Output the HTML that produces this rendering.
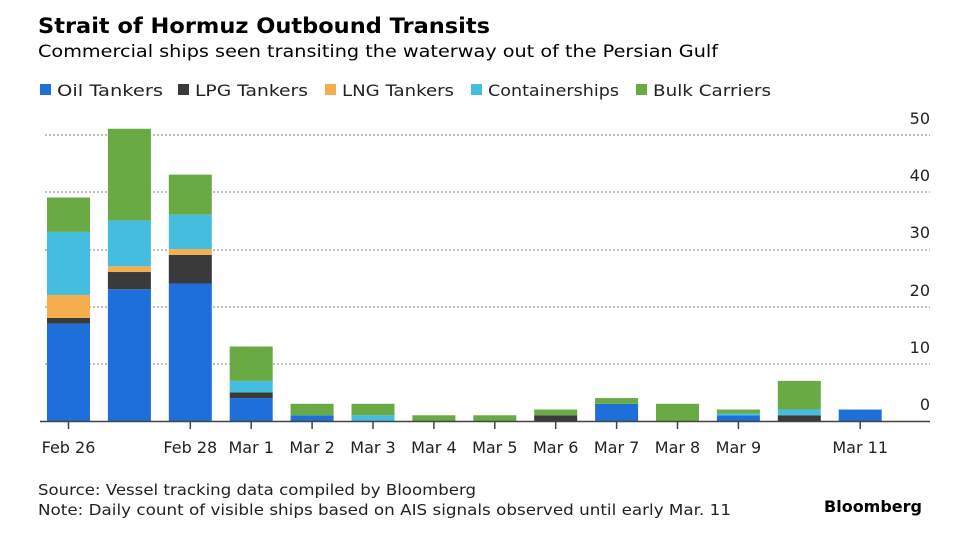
<!DOCTYPE html>
<html><head><meta charset="utf-8"><style>
body{margin:0;background:#fff;}
svg text{font-family:"DejaVu Sans","Liberation Sans",sans-serif;}
</style></head><body>
<svg width="960" height="540" xmlns="http://www.w3.org/2000/svg">
<rect width="960" height="540" fill="#fff"/>
<text x="38" y="33" font-size="21" font-weight="bold" fill="#000" textLength="452" lengthAdjust="spacingAndGlyphs">Strait of Hormuz Outbound Transits</text>
<text x="38" y="57" font-size="17" fill="#000" textLength="680" lengthAdjust="spacingAndGlyphs">Commercial ships seen transiting the waterway out of the Persian Gulf</text>
<g font-size="16" fill="#222">
<rect x="40" y="84" width="11" height="11" fill="#1f6fdb"/><text x="57" y="96" textLength="106" lengthAdjust="spacingAndGlyphs">Oil Tankers</text>
<rect x="178" y="84" width="11" height="11" fill="#3a3a3a"/><text x="195" y="96" textLength="113" lengthAdjust="spacingAndGlyphs">LPG Tankers</text>
<rect x="325" y="84" width="11" height="11" fill="#f5ae4e"/><text x="342" y="96" textLength="112" lengthAdjust="spacingAndGlyphs">LNG Tankers</text>
<rect x="471" y="84" width="11" height="11" fill="#45bde0"/><text x="488" y="96" textLength="131" lengthAdjust="spacingAndGlyphs">Containerships</text>
<rect x="636" y="84" width="11" height="11" fill="#6aaa44"/><text x="653" y="96" textLength="118" lengthAdjust="spacingAndGlyphs">Bulk Carriers</text>
</g>
<g stroke="#aaa" stroke-width="1.5" stroke-dasharray="2,2">
<line x1="45" x2="930" y1="135" y2="135"/><line x1="45" x2="930" y1="192" y2="192"/>
<line x1="45" x2="930" y1="250" y2="250"/><line x1="45" x2="930" y1="307" y2="307"/>
<line x1="45" x2="930" y1="364" y2="364"/>
</g>
<g font-size="16" fill="#222" text-anchor="end">
<text x="930" y="124">50</text><text x="930" y="181">40</text><text x="930" y="238">30</text>
<text x="930" y="296">20</text><text x="930" y="353">10</text><text x="930" y="410">0</text>
</g>
<g>
<rect x="47" y="323.59" width="43" height="97.41" fill="#1f6fdb"/>
<rect x="47" y="317.86" width="43" height="5.73" fill="#3a3a3a"/>
<rect x="47" y="294.94" width="43" height="22.92" fill="#f5ae4e"/>
<rect x="47" y="231.91" width="43" height="63.03" fill="#45bde0"/>
<rect x="47" y="197.53" width="43" height="34.38" fill="#6aaa44"/>

<rect x="107.9" y="289.21" width="43" height="131.79" fill="#1f6fdb"/>
<rect x="107.9" y="272.02" width="43" height="17.19" fill="#3a3a3a"/>
<rect x="107.9" y="266.29" width="43" height="5.73" fill="#f5ae4e"/>
<rect x="107.9" y="220.45" width="43" height="45.84" fill="#45bde0"/>
<rect x="107.9" y="128.77" width="43" height="91.68" fill="#6aaa44"/>

<rect x="168.8" y="283.48" width="43" height="137.52" fill="#1f6fdb"/>
<rect x="168.8" y="254.83" width="43" height="28.65" fill="#3a3a3a"/>
<rect x="168.8" y="249.1" width="43" height="5.73" fill="#f5ae4e"/>
<rect x="168.8" y="214.72" width="43" height="34.38" fill="#45bde0"/>
<rect x="168.8" y="174.61" width="43" height="40.11" fill="#6aaa44"/>

<rect x="229.7" y="398.08" width="43" height="22.92" fill="#1f6fdb"/>
<rect x="229.7" y="392.35" width="43" height="5.73" fill="#3a3a3a"/>
<rect x="229.7" y="380.89" width="43" height="11.46" fill="#45bde0"/>
<rect x="229.7" y="346.51" width="43" height="34.38" fill="#6aaa44"/>

<rect x="290.6" y="415.27" width="43" height="5.73" fill="#1f6fdb"/>
<rect x="290.6" y="403.81" width="43" height="11.46" fill="#6aaa44"/>

<rect x="351.5" y="415.27" width="43" height="5.73" fill="#45bde0"/>
<rect x="351.5" y="403.81" width="43" height="11.46" fill="#6aaa44"/>

<rect x="412.4" y="415.27" width="43" height="5.73" fill="#6aaa44"/>
<rect x="473.3" y="415.27" width="43" height="5.73" fill="#6aaa44"/>

<rect x="534.2" y="415.27" width="43" height="5.73" fill="#3a3a3a"/>
<rect x="534.2" y="409.54" width="43" height="5.73" fill="#6aaa44"/>

<rect x="595.1" y="403.81" width="43" height="17.19" fill="#1f6fdb"/>
<rect x="595.1" y="398.08" width="43" height="5.73" fill="#6aaa44"/>

<rect x="656" y="403.81" width="43" height="17.19" fill="#6aaa44"/>

<rect x="716.9" y="415.27" width="43" height="5.73" fill="#1f6fdb"/>
<rect x="716.9" y="413.55" width="43" height="1.72" fill="#45bde0"/>
<rect x="716.9" y="409.54" width="43" height="4.01" fill="#6aaa44"/>

<rect x="777.8" y="415.27" width="43" height="5.73" fill="#3a3a3a"/>
<rect x="777.8" y="409.54" width="43" height="5.73" fill="#45bde0"/>
<rect x="777.8" y="380.89" width="43" height="28.65" fill="#6aaa44"/>

<rect x="838.7" y="409.54" width="43" height="11.46" fill="#1f6fdb"/>
</g>
<line x1="40" x2="930" y1="421.5" y2="421.5" stroke="#444" stroke-width="1.5"/>
<g stroke="#444" stroke-width="1.5">
<line x1="68.5" x2="68.5" y1="422" y2="429"/><line x1="190.3" x2="190.3" y1="422" y2="429"/>
<line x1="251.2" x2="251.2" y1="422" y2="429"/><line x1="312.1" x2="312.1" y1="422" y2="429"/>
<line x1="373" x2="373" y1="422" y2="429"/><line x1="433.9" x2="433.9" y1="422" y2="429"/>
<line x1="494.8" x2="494.8" y1="422" y2="429"/><line x1="555.7" x2="555.7" y1="422" y2="429"/>
<line x1="616.6" x2="616.6" y1="422" y2="429"/><line x1="677.5" x2="677.5" y1="422" y2="429"/>
<line x1="738.4" x2="738.4" y1="422" y2="429"/><line x1="860.2" x2="860.2" y1="422" y2="429"/>
</g>
<g font-size="16" fill="#222" text-anchor="middle">
<text x="68.5" y="453">Feb 26</text><text x="190.3" y="453">Feb 28</text><text x="251.2" y="453">Mar 1</text>
<text x="312.1" y="453">Mar 2</text><text x="373" y="453">Mar 3</text><text x="433.9" y="453">Mar 4</text>
<text x="494.8" y="453">Mar 5</text><text x="555.7" y="453">Mar 6</text><text x="616.6" y="453">Mar 7</text>
<text x="677.5" y="453">Mar 8</text><text x="738.4" y="453">Mar 9</text><text x="860.2" y="453">Mar 11</text>
</g>
<text x="38" y="495" font-size="15" fill="#222" textLength="438" lengthAdjust="spacingAndGlyphs">Source: Vessel tracking data compiled by Bloomberg</text>
<text x="38" y="515" font-size="15" fill="#222" textLength="693" lengthAdjust="spacingAndGlyphs">Note: Daily count of visible ships based on AIS signals observed until early Mar. 11</text>
<text x="922" y="512" font-size="16" font-weight="bold" fill="#000" text-anchor="end">Bloomberg</text>
</svg>
</body></html>
